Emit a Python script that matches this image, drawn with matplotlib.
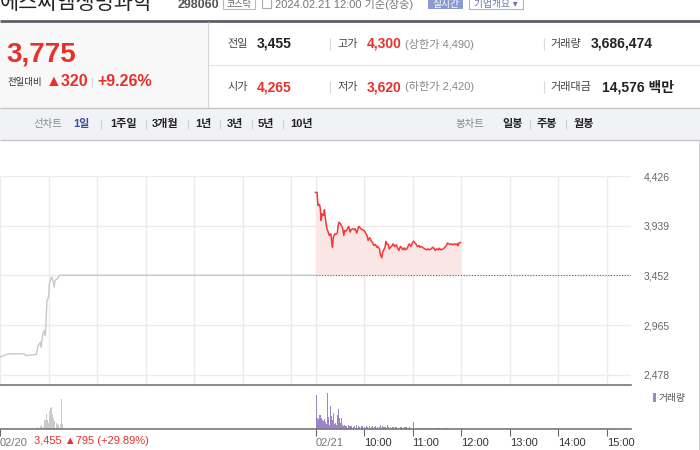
import matplotlib.pyplot as plt
from matplotlib.patches import Rectangle

plt.rcParams['font.family'] = ['Liberation Sans', 'Noto Sans CJK KR', 'DejaVu Sans']

# 02/20 (previous day) price, minutes after 09:00
p1_min = [0, 4, 10, 30, 32, 45, 47, 50, 51, 52, 53, 55, 56, 57, 58, 60, 61, 63,
          64, 66, 67, 68, 71, 72, 74, 390]
p1_val = [2652, 2665, 2685, 2685, 2668, 2680, 2766, 2799, 2750, 2832, 2881, 2913,
          2864, 3011, 3207, 3240, 3371, 3420, 3436, 3387, 3338, 3403, 3420, 3436,
          3455, 3455]

# 02/21 (today) price, minutes after 09:00
p2_min = [0, 2, 3, 5, 6, 7, 8, 10, 11, 12, 14, 15, 17, 19, 20, 21, 22, 24, 25, 27,
          28, 29, 31, 33, 34, 35, 36, 38, 40, 41, 43, 44, 46, 48, 49, 51, 53, 54, 56, 58,
          60, 62, 64, 65, 67, 69, 71, 72, 74, 76, 77, 79, 80, 82, 83, 84, 86, 87, 88, 90,
          91, 93, 95, 96, 98, 100, 101, 103, 105, 106, 108, 110, 111, 113, 115, 116, 118,
          119, 121, 123, 124, 126, 128, 129, 131, 133, 135, 137, 139, 141, 143, 145, 147,
          148, 150, 152, 153, 155, 158, 160, 162, 163, 165, 167, 168, 170, 172, 173, 175,
          176, 177, 179]
p2_val = [4265, 4265, 4138, 4148, 4105, 3991, 4057, 4040, 4096, 4024,
          3910, 3893, 3844, 3860, 3779, 3729, 3828, 3860, 3854, 3867,
          3942, 3974, 3958, 3926, 3893, 3844, 3893, 3887, 3920, 3932,
          3877, 3900, 3910, 3900, 3910, 3867, 3926, 3932, 3910, 3900,
          3893, 3867, 3835, 3795, 3822, 3789, 3769, 3746, 3756, 3729,
          3736, 3713, 3664, 3625, 3680, 3697, 3729, 3785, 3762, 3756,
          3713, 3729, 3746, 3762, 3736, 3752, 3729, 3697, 3736, 3729,
          3703, 3723, 3703, 3713, 3746, 3762, 3736, 3756, 3789, 3769,
          3762, 3736, 3746, 3729, 3736, 3723, 3713, 3703, 3713, 3703,
          3713, 3729, 3713, 3697, 3713, 3703, 3719, 3703, 3713, 3729,
          3746, 3769, 3762, 3756, 3762, 3752, 3762, 3756, 3762, 3742,
          3769, 3775]
prev_close = 3455

# volume (thousand shares)
v1_min = [46, 50, 51, 53, 55, 56, 57, 58, 59, 61, 62, 63, 64, 66, 67, 69, 70, 72,
          74, 75, 76, 89, 98, 107, 112, 129, 157]
v1_val = [10, 16, 20, 10, 50, 30, 86, 50, 36, 106, 122, 130, 86, 66, 46, 36, 26, 22,
          30, 176, 26, 6, 6, 6, 6, 6, 6]
v2_min = list(range(0, 37)) + list(range(38, 117, 2)) + [121, 127, 133, 139, 143, 147, 152, 160, 163]
v2_val = [202, 96, 66, 60, 82, 76, 84, 66, 50, 48, 54, 60, 40, 30, 214, 46, 70, 24,
          136, 76, 40, 54, 96, 26, 36, 22, 18, 82, 116, 66, 36, 26, 62, 20, 18, 24, 14,
          16, 20, 14, 18, 12, 16, 20, 14, 12, 18, 16, 12, 14, 10, 16, 12, 14, 10, 16, 12,
          10, 22, 14, 10, 12, 22, 10, 8, 12, 8, 10, 8, 6, 10, 8, 6, 10, 8, 6, 8,
          40, 6, 6, 6, 6, 6, 6, 6, 6]

price_ticks = [2478, 2965, 3452, 3939, 4426]
grid_x = [0, 60, 120, 180, 240, 300, 360, 390, 450, 510, 570, 630, 690, 750]
time_ticks = [0, 390, 450, 510, 570, 630, 690, 750]
time_labels = ['02/20', '02/21', '10:00', '11:00', '12:00', '13:00', '14:00', '15:00']

RED = '#e8302a'
DAY2 = 390  # 02/21 09:00 on the joined time axis

fig = plt.figure(figsize=(7, 4.5), dpi=100)

# header / frame drawn in pixel coordinates
ov = fig.add_axes([0, 0, 1, 1])
ov.set_xlim(0, 700)
ov.set_ylim(450, 0)
ov.axis('off')

def txt(x, y, s, size=8, color='#333', weight='normal', ha='left', va='center'):
    ov.text(x, y, s, fontsize=size, color=color, fontweight=weight, ha=ha, va=va)

def hline(y, x0, x1, color, lw=0.8):
    ov.plot([x0, x1], [y, y], color=color, lw=lw, solid_capstyle='butt')

def vline(x, y0, y1, color, lw=0.8):
    ov.plot([x, x], [y0, y1], color=color, lw=lw, solid_capstyle='butt')

# title row (cut at the top like the screenshot)
ov.text(0, 9, '에스씨엠생명과학', fontsize=15, color='#222', va='baseline')
txt(178, 5.5, '298060', 9, '#555', 'bold')
ov.add_patch(Rectangle((223, -3), 32, 12, fc='white', ec='#bbbbbb', lw=0.8))
txt(239, 4, '코스닥', 6.5, '#666', ha='center')
ov.add_patch(Rectangle((262, -2), 9, 10, fc='white', ec='#aaaaaa', lw=0.8))
txt(275, 4.5, '2024.02.21 12:00 기준(장중)', 8, '#777')
ov.add_patch(Rectangle((428, -3), 35, 12, fc='#8c9ad0', ec='none'))
txt(445.5, 4, '실시간', 7, 'white', ha='center')
ov.add_patch(Rectangle((469, -3), 54, 12, fc='white', ec='#a9b2d8', lw=0.8))
txt(496, 4, '기업개요 ▾', 7, '#6a76a8', ha='center')
hline(21, 0, 700, '#5b5f68', 2)

# price summary panel
ov.add_patch(Rectangle((0, 22), 208, 86, fc='#f8f8f8', ec='none'))
vline(208, 22, 108, '#d5d5d5')
hline(65, 208, 700, '#e6e6e6')
hline(108, 0, 700, '#c6c6c6', 1)

txt(6, 54, '3,775', 20, RED, 'bold')
txt(8, 82, '전일대비', 6.8, '#333')
txt(46, 82, '▲320', 11.5, RED, 'bold')
vline(92, 77, 88, '#d8d8d8')
txt(97, 82, '+9.26%', 11.5, RED, 'bold')

rows = [
    (44, [('전일', '3,455', '#222'), ('고가', '4,300', RED), ('거래량', '3,686,474', '#222')], '(상한가 4,490)'),
    (87, [('시가', '4,265', RED), ('저가', '3,620', RED), ('거래대금', '14,576 백만', '#222')], '(하한가 2,420)'),
]
for y, cells, note in rows:
    (l1, v1, c1), (l2, v2, c2), (l3, v3, c3) = cells
    txt(227, y, l1, 8, '#444')
    txt(257, y, v1, 10, c1, 'bold')
    vline(330, y - 6, y + 6, '#d8d8d8')
    txt(337, y, l2, 8, '#444')
    txt(367, y, v2, 10, c2, 'bold')
    txt(405, y, note, 8, '#888')
    vline(544, y - 6, y + 6, '#d8d8d8')
    txt(550, y, l3, 8, '#444')
    txt(591 if l3 == '거래량' else 602, y, v3, 10, c3, 'bold')

# chart tabs
ov.add_patch(Rectangle((0, 108), 700, 32, fc='#f1f2f6', ec='none'))
hline(140, 0, 700, '#c6c6c6', 1)
vline(699, 140, 450, '#d0d0d0')
txt(33, 124, '선차트', 7.5, '#888')
txt(73, 124, '1일', 8, '#3b4fa0', 'bold')
for x, s in [(110, '1주일'), (152, '3개월'), (195, '1년'), (227, '3년'), (258, '5년'), (290, '10년')]:
    txt(x, 124, s, 8, '#222', 'bold')
for x in [101, 146, 188, 220, 252, 283]:
    vline(x, 119, 129, '#d0d0d0')
txt(456, 124, '봉차트', 7.5, '#888')
for x, s in [(502, '일봉'), (537, '주봉'), (574, '월봉')]:
    txt(x, 124, s, 8, '#222', 'bold')
for x in [530, 566]:
    vline(x, 119, 129, '#d0d0d0')

# price chart
ax = fig.add_axes([0, (450 - 385) / 450, 631 / 700, (385 - 176) / 450])
ax.set_facecolor('none')
ax.set_xlim(0, 780)
ax.set_ylim(2380, 4426)
for gx in grid_x:
    ax.axvline(gx, color='#ebebeb', lw=1, zorder=0)
for gy in price_ticks:
    ax.axhline(gy, color='#ebebeb', lw=1, zorder=0)

ax.plot(p1_min, p1_val, color='#c5c8cc', lw=1, zorder=2)
t2 = [DAY2 + m for m in p2_min]
ax.fill_between(t2, p2_val, prev_close, color='#fbe6e6', lw=0, zorder=1)
ax.plot(t2, p2_val, color='#f5383a', lw=1.1, zorder=3)
ax.plot([DAY2, 780], [prev_close, prev_close], color='#666', lw=0.8,
        linestyle=(0, (1, 1.5)), zorder=2)

ax.yaxis.tick_right()
ax.set_yticks(price_ticks)
ax.set_yticklabels([f'{v:,}' for v in price_ticks])
ax.tick_params(axis='y', length=0, pad=9, labelsize=7.5, labelcolor='#666')
ax.set_xticks([])
for side in ['top', 'left', 'right']:
    ax.spines[side].set_visible(False)
ax.spines['bottom'].set_color('#777')
ax.spines['bottom'].set_linewidth(1.2)

# volume chart
axv = fig.add_axes([0, (450 - 428.7) / 450, 631 / 700, (428.7 - 385) / 450])
axv.set_facecolor('none')
axv.set_xlim(0, 780)
axv.set_ylim(0, 262)
axv.bar(v1_min, v1_val, width=1.3, align='edge', color='#c8cacd', lw=0)
axv.bar([DAY2 + m for m in v2_min], v2_val, width=1.3, align='edge', color='#9b87c8', lw=0)
axv.set_yticks([])
axv.set_xticks(time_ticks)
axv.set_xticklabels(time_labels, ha='left')
axv.tick_params(axis='x', length=5, width=0.8, color='#666', pad=2, labelsize=8)
for lab in axv.get_xticklabels():
    lab.set_color('#777' if '/' in lab.get_text() else '#333')
for side in ['top', 'left', 'right']:
    axv.spines[side].set_visible(False)
axv.spines['bottom'].set_color('#777')
axv.spines['bottom'].set_linewidth(1.2)

ov.add_patch(Rectangle((653, 393), 3, 9, fc='#9b87c8', ec='none'))
txt(659, 397.5, '거래량', 7, '#555')
txt(34, 441, '3,455 ▲795 (+29.89%)', 8, RED)

fig.savefig('out.png', dpi=100)
